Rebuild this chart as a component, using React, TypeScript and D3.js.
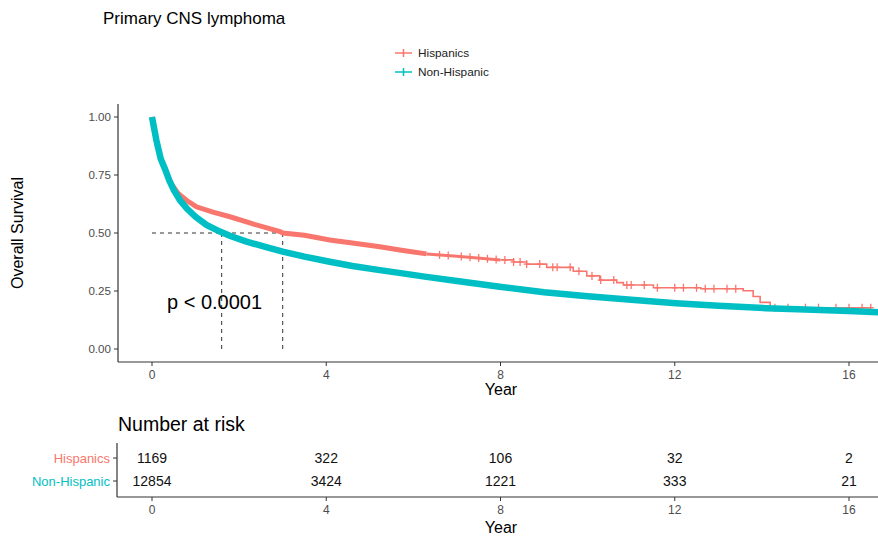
import React from "react";
import * as d3 from "d3";

const hispTime = [0, 0.05, 0.1, 0.15, 0.2, 0.3, 0.34, 0.45, 0.6, 0.8, 1.02, 1.4, 1.79, 2.3, 2.94, 3.0, 3.5, 4.08, 4.6, 5.23, 5.69, 6.3, 7.0, 8.0, 8.3, 8.6, 9.06, 9.67, 9.98, 10.28, 10.67, 10.82, 11.51, 12.6, 13.57, 13.8, 13.96, 14.19, 16.5];
const hispSurv = [1.0, 0.95, 0.9, 0.86, 0.82, 0.775, 0.757, 0.71, 0.67, 0.64, 0.613, 0.59, 0.57, 0.54, 0.506, 0.5, 0.49, 0.47, 0.457, 0.441, 0.427, 0.41, 0.4, 0.384, 0.375, 0.366, 0.352, 0.335, 0.315, 0.297, 0.286, 0.276, 0.264, 0.26, 0.251, 0.226, 0.201, 0.178, 0.178];
const hispCensor = [6.6, 6.8, 7.1, 7.3, 7.5, 7.7, 7.9, 8.1, 8.3, 8.45, 8.6, 8.9, 9.2, 9.3, 9.6, 9.8, 10.1, 10.3, 10.6, 10.9, 11.0, 11.3, 11.6, 12.0, 12.2, 12.5, 12.7, 12.9, 13.2, 13.4, 14.3, 14.6, 15.0, 15.3, 15.7, 16.0, 16.3, 16.5];

const nonTime = [0, 0.05, 0.1, 0.15, 0.2, 0.3, 0.4, 0.5, 0.64, 0.8, 1.0, 1.25, 1.56, 1.8, 2.17, 2.6, 3.0, 3.5, 4.08, 4.6, 5.23, 5.75, 6.3, 7.0, 7.98, 9.0, 10.0, 11.0, 12.03, 13.0, 14.1, 15.0, 16.0, 16.7];
const nonSurv = [1.0, 0.95, 0.9, 0.86, 0.82, 0.775, 0.725, 0.685, 0.642, 0.605, 0.57, 0.535, 0.506, 0.487, 0.463, 0.44, 0.42, 0.398, 0.376, 0.358, 0.34, 0.326, 0.311, 0.293, 0.268, 0.245, 0.227, 0.212, 0.197, 0.186, 0.176, 0.17, 0.164, 0.158];

const groups = ["Hispanics", "Non-Hispanic"];
const colors = ["#F8766D", "#00BFC4"];
const medians = [3.0, 1.6];
const xTicks = [0, 4, 8, 12, 16];
const yTicks = [0, 0.25, 0.5, 0.75, 1.0];
const riskHisp = [1169, 322, 106, 32, 2];
const riskNon = [12854, 3424, 1221, 333, 21];

const FONT = "'Liberation Sans', Arial, Helvetica, sans-serif";

export default function App() {
  const x = d3.scaleLinear().domain([0, 16]).range([152, 849]);
  const y = d3.scaleLinear().domain([0, 1]).range([349, 117]);
  const yRisk = d3.scalePoint().domain(groups).range([458, 481]);

  const smooth = d3
    .line<[number, number]>()
    .x((d) => x(d[0]))
    .y((d) => y(d[1]))
    .curve(d3.curveLinear);
  const step = d3
    .line<[number, number]>()
    .x((d) => x(d[0]))
    .y((d) => y(d[1]))
    .curve(d3.curveStepAfter);

  const hisp: [number, number][] = hispTime.map((t, i) => [t, hispSurv[i]]);
  const non: [number, number][] = nonTime.map((t, i) => [t, nonSurv[i]]);
  const hispDense = hisp.filter((d) => d[0] <= 6.3);
  const hispMid = hisp.filter((d) => d[0] >= 6.3 && d[0] <= 8.0);
  const hispSparse = hisp.filter((d) => d[0] >= 8.0);

  const survAt = (data: [number, number][], t: number) => {
    if (t <= 8) {
      // linear part
      for (let i = 1; i < data.length; i++) {
        if (data[i][0] >= t) {
          const [t0, v0] = data[i - 1];
          const [t1, v1] = data[i];
          return v0 + ((t - t0) / (t1 - t0)) * (v1 - v0);
        }
      }
    }
    let v = data[0][1];
    for (const d of data) if (d[0] <= t) v = d[1];
    return v;
  };

  const axisColor = "#333";
  const tickColor = "#4d4d4d";

  return (
    <svg
      width={878}
      height={537}
      style={{ position: "fixed", left: 0, top: 0, background: "#fff" }}
      fontFamily={FONT}
    >
      {/* title */}
      <text x={103} y={24} fontSize={17} fill="#000">Primary CNS lymphoma</text>

      {/* legend */}
      {groups.map((g, i) => (
        <g key={g} transform={`translate(0,${53 + i * 19})`}>
          <line x1={395} x2={412} y1={0} y2={0} stroke={colors[i]} strokeWidth={1.5} />
          <line x1={403.5} x2={403.5} y1={-4} y2={4} stroke={colors[i]} strokeWidth={1.5} />
          <text x={418} y={4} fontSize={11.8} fill="#222">{g}</text>
        </g>
      ))}

      {/* y axis title */}
      <text
        transform="translate(23,233) rotate(-90)"
        textAnchor="middle"
        fontSize={16}
        fill="#000"
      >
        Overall Survival
      </text>

      {/* axes */}
      <line x1={118} x2={118} y1={104} y2={362} stroke={axisColor} strokeWidth={1.2} />
      <line x1={118} x2={878} y1={362} y2={362} stroke={axisColor} strokeWidth={1.2} />
      {yTicks.map((t) => (
        <g key={t}>
          <line x1={114} x2={118} y1={y(t)} y2={y(t)} stroke={axisColor} />
          <text x={111} y={y(t) + 4} textAnchor="end" fontSize={11.6} fill={tickColor}>
            {t.toFixed(2)}
          </text>
        </g>
      ))}
      {xTicks.map((t) => (
        <g key={t}>
          <line x1={x(t)} x2={x(t)} y1={362} y2={366} stroke={axisColor} />
          <text x={x(t)} y={378.5} textAnchor="middle" fontSize={12} fill={tickColor}>
            {t}
          </text>
        </g>
      ))}
      <text x={501} y={395} textAnchor="middle" fontSize={16} fill="#000">Year</text>

      {/* median lines */}
      <line
        x1={x(0)}
        x2={x(Math.max(...medians))}
        y1={y(0.5)}
        y2={y(0.5)}
        stroke="#333"
        strokeDasharray="4,4"
        strokeWidth={1}
      />
      {medians.map((m) => (
        <line
          key={m}
          x1={x(m)}
          x2={x(m)}
          y1={y(0.5)}
          y2={y(0)}
          stroke="#333"
          strokeDasharray="4,4"
          strokeWidth={1}
        />
      ))}

      {/* curves */}
      <path d={smooth(hispDense) || ""} fill="none" stroke={colors[0]} strokeWidth={5} />
      <path d={smooth(hispMid) || ""} fill="none" stroke={colors[0]} strokeWidth={3} />
      <path d={step(hispSparse) || ""} fill="none" stroke={colors[0]} strokeWidth={1.6} />
      {hispCensor.map((t, i) => {
        const v = survAt(hisp, t);
        return (
          <g key={i}>
            <line x1={x(t)} x2={x(t)} y1={y(v) - 4} y2={y(v) + 4} stroke={colors[0]} strokeWidth={1.3} />
            <line x1={x(t) - 3} x2={x(t) + 3} y1={y(v)} y2={y(v)} stroke={colors[0]} strokeWidth={1.3} />
          </g>
        );
      })}
      <path d={smooth(non) || ""} fill="none" stroke={colors[1]} strokeWidth={6.5} />

      {/* p value */}
      <text x={167} y={309} fontSize={20} fill="#000">p &lt; 0.0001</text>

      {/* risk table */}
      <text x={118} y={431} fontSize={19.5} fill="#000">Number at risk</text>
      <line x1={117} x2={117} y1={443} y2={497} stroke={axisColor} strokeWidth={1.2} />
      <line x1={117} x2={878} y1={497} y2={497} stroke={axisColor} strokeWidth={1.2} />
      {groups.map((g, i) => (
        <g key={g}>
          <line x1={113} x2={117} y1={yRisk(g)} y2={yRisk(g)} stroke={axisColor} />
          <text x={110} y={(yRisk(g) as number) + 4.5} textAnchor="end" fontSize={13} fill={colors[i]}>
            {g}
          </text>
        </g>
      ))}
      {xTicks.map((t, i) => (
        <g key={t}>
          <text x={x(t)} y={(yRisk("Hispanics") as number) + 5} textAnchor="middle" fontSize={14} fill="#111">
            {riskHisp[i]}
          </text>
          <text x={x(t)} y={(yRisk("Non-Hispanic") as number) + 5} textAnchor="middle" fontSize={14} fill="#111">
            {riskNon[i]}
          </text>
          <line x1={x(t)} x2={x(t)} y1={497} y2={501} stroke={axisColor} />
          <text x={x(t)} y={514} textAnchor="middle" fontSize={12} fill={tickColor}>
            {t}
          </text>
        </g>
      ))}
      <text x={501} y={533} textAnchor="middle" fontSize={16} fill="#000">Year</text>
    </svg>
  );
}
